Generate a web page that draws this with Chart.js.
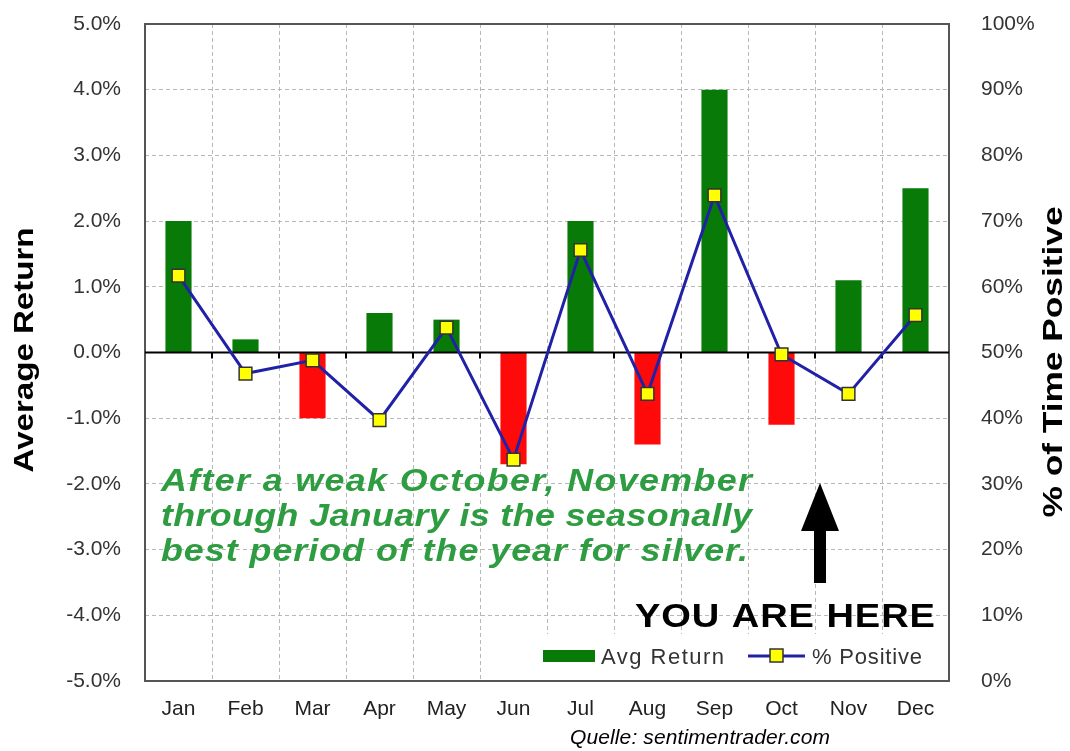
<!DOCTYPE html>
<html lang="en">
<head>
    <meta charset="UTF-8">
    <title>Silver Seasonality</title>
    <script src="https://cdn.jsdelivr.net/npm/chart.js"></script>
    <style>
        body { margin: 0; background: #fff; }
        #wrap { width: 1070px; height: 751px; }
    </style>
</head>
<body>
    <div id="wrap"><canvas id="seasonChart" width="1070" height="751"></canvas></div>

    <script>
        // Chart data
        const months = ['Jan', 'Feb', 'Mar', 'Apr', 'May', 'Jun', 'Jul', 'Aug', 'Sep', 'Oct', 'Nov', 'Dec'];
        const avgReturn = [2.0, 0.2, -1.0, 0.6, 0.5, -1.7, 2.0, -1.4, 4.0, -1.1, 1.1, 2.5];
        const pctPositive = [61.7, 46.8, 48.8, 39.7, 53.8, 33.7, 65.6, 43.7, 73.9, 49.7, 43.7, 55.7];
        const noteLines = [
            'After a weak October, November',
            'through January is the seasonally',
            'best period of the year for silver.'
        ];

        const GREEN = '#087a08';
        const RED = '#ff0a0a';
        const BLUE = '#2121a8';
        const GRID = '#b8b8b8';
        const FONT = '"Liberation Sans", Arial, sans-serif';

        // draw text stretched to a target width (horizontal scale + letter spacing)
        function fitText(ctx, text, x, y, width, sx) {
            sx = sx || 1;
            ctx.save();
            ctx.translate(x, y);
            ctx.scale(sx, 1);
            ctx.letterSpacing = '0px';
            const w = ctx.measureText(text).width;
            const sp = (width / sx - w) / (text.length - 1);
            ctx.letterSpacing = sp + 'px';
            ctx.fillText(text, 0, 0);
            ctx.restore();
        }

        // vertical title reading bottom to top, stretched to a given length
        function sideTitle(ctx, text, x, y, length) {
            ctx.save();
            ctx.translate(x, y);
            ctx.rotate(-Math.PI / 2);
            ctx.font = 'bold 28px ' + FONT;
            const sx = length / ctx.measureText(text).width;
            ctx.scale(sx, 1);
            ctx.fillStyle = '#000';
            ctx.textAlign = 'center';
            ctx.textBaseline = 'alphabetic';
            ctx.fillText(text, 0, 0);
            ctx.restore();
        }

        const decorations = {
            id: 'decorations',
            beforeDatasetsDraw(chart) {
                const { ctx, chartArea: a } = chart;
                ctx.save();
                ctx.strokeStyle = '#555';
                ctx.lineWidth = 2;
                ctx.strokeRect(a.left, a.top, a.right - a.left, a.bottom - a.top);
                ctx.restore();
            },
            afterDatasetDraw(chart, args) {
                if (args.index !== 0) return;
                // zero line with small ticks at the month boundaries
                const { ctx, chartArea: a, scales } = chart;
                const y0 = scales.y.getPixelForValue(0);
                ctx.save();
                ctx.strokeStyle = '#000';
                ctx.lineWidth = 2;
                ctx.beginPath();
                ctx.moveTo(a.left, y0);
                ctx.lineTo(a.right, y0);
                const step = (a.right - a.left) / months.length;
                for (let i = 1; i < months.length; i++) {
                    const x = Math.round(a.left + step * i);
                    ctx.moveTo(x, y0);
                    ctx.lineTo(x, y0 + 6);
                }
                ctx.stroke();
                ctx.restore();
            },
            afterDatasetsDraw(chart) {
                const { ctx, chartArea: a } = chart;
                ctx.save();

                // legend box inside plot
                ctx.fillStyle = '#fff';
                ctx.fillRect(537, 634, a.right - 538, a.bottom - 635);
                ctx.fillStyle = GREEN;
                ctx.fillRect(543, 650, 52, 12);
                ctx.fillStyle = '#333';
                ctx.font = '22px ' + FONT;
                ctx.textBaseline = 'alphabetic';
                ctx.textAlign = 'left';
                fitText(ctx, 'Avg Return', 601, 664, 123);
                ctx.strokeStyle = BLUE;
                ctx.lineWidth = 3;
                ctx.beginPath();
                ctx.moveTo(748, 656);
                ctx.lineTo(805, 656);
                ctx.stroke();
                ctx.fillStyle = '#ffff00';
                ctx.fillRect(770, 649, 13, 13);
                ctx.strokeStyle = '#333';
                ctx.lineWidth = 1.5;
                ctx.strokeRect(770, 649, 13, 13);
                ctx.fillStyle = '#333';
                fitText(ctx, '% Positive', 812, 664, 110);

                // annotation text
                ctx.fillStyle = '#2e9c40';
                ctx.font = 'italic bold 32px ' + FONT;
                fitText(ctx, noteLines[0], 161, 491, 591, 1.12);
                fitText(ctx, noteLines[1], 161, 526, 591, 1.12);
                fitText(ctx, noteLines[2], 161, 561, 587, 1.12);

                // arrow
                ctx.fillStyle = '#000';
                ctx.beginPath();
                ctx.moveTo(820, 483);
                ctx.lineTo(839, 531);
                ctx.lineTo(826, 531);
                ctx.lineTo(826, 583);
                ctx.lineTo(814, 583);
                ctx.lineTo(814, 531);
                ctx.lineTo(801, 531);
                ctx.closePath();
                ctx.fill();

                ctx.font = 'bold 34px ' + FONT;
                fitText(ctx, 'YOU ARE HERE', 635, 627, 300, 1.12);
                ctx.restore();
            },
            afterDraw(chart) {
                const { ctx } = chart;
                sideTitle(ctx, 'Average Return', 33, 350, 245);
                sideTitle(ctx, '% of Time Positive', 1062, 362, 311);

                ctx.save();
                ctx.font = 'italic 21px ' + FONT;
                ctx.fillStyle = '#000';
                ctx.textBaseline = 'middle';
                fitText(ctx, 'Quelle: sentimentrader.com', 570, 738, 260);
                ctx.restore();
            }
        };

        const ctx = document.getElementById('seasonChart').getContext('2d');
        const seasonChart = new Chart(ctx, {
            type: 'bar',
            data: {
                labels: months,
                datasets: [{
                    type: 'bar',
                    label: 'Avg Return',
                    data: avgReturn,
                    yAxisID: 'y',
                    backgroundColor: c => (c.raw < 0 ? RED : GREEN),
                    barPercentage: 0.39,
                    categoryPercentage: 1,
                    order: 1
                }, {
                    type: 'line',
                    label: '% Positive',
                    data: pctPositive,
                    yAxisID: 'y2',
                    borderColor: BLUE,
                    borderWidth: 3,
                    pointStyle: 'rect',
                    pointRadius: 9,
                    pointBackgroundColor: '#ffff00',
                    pointBorderColor: '#333',
                    pointBorderWidth: 1.5,
                    tension: 0,
                    order: 0
                }]
            },
            options: {
                responsive: false,
                animation: false,
                layout: { padding: { top: 24, left: 0, right: 0, bottom: 0 } },
                plugins: {
                    legend: { display: false },
                    tooltip: { enabled: false }
                },
                scales: {
                    x: {
                        offset: true,
                        grid: { offset: true, color: GRID, lineWidth: 1, drawTicks: false, borderDash: [4, 3] },
                        border: { display: false, dash: [4, 3] },
                        ticks: { color: '#222', font: { size: 21, family: FONT }, padding: 16 },
                        afterFit: s => { s.height = 70; s.paddingLeft = 0; s.paddingRight = 0; }
                    },
                    y: {
                        position: 'left',
                        min: -5,
                        max: 5,
                        grid: { color: GRID, lineWidth: 1, drawTicks: false, borderDash: [4, 3] },
                        border: { display: false, dash: [4, 3] },
                        ticks: {
                            stepSize: 1,
                            color: '#333',
                            font: { size: 21, family: FONT },
                            padding: 24,
                            callback: v => v.toFixed(1) + '%'
                        },
                        afterFit: s => { s.width = 145; s.paddingTop = 0; s.paddingBottom = 0; }
                    },
                    y2: {
                        position: 'right',
                        min: 0,
                        max: 100,
                        grid: { display: false, drawOnChartArea: false },
                        border: { display: false },
                        ticks: {
                            stepSize: 10,
                            color: '#333',
                            font: { size: 21, family: FONT },
                            padding: 24,
                            callback: v => v + '%'
                        },
                        afterFit: s => { s.width = 121; s.paddingTop = 0; s.paddingBottom = 0; }
                    }
                }
            },
            plugins: [decorations]
        });
    </script>
</body>
</html>
